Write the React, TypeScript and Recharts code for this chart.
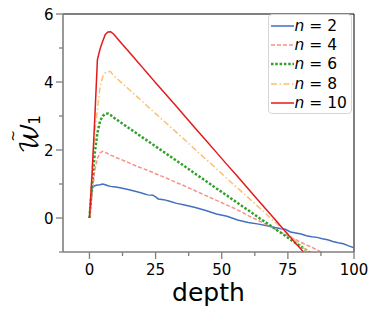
import React from "react";
import { LineChart, Line, XAxis, YAxis, ReferenceLine, Legend } from "recharts";

// depth samples and the value of W~1 per n
const depth = [
  0, 1, 2, 3, 4, 5, 6, 7, 8, 9, 10, 12, 15, 18, 20, 22, 24, 25, 26, 28, 30, 33,
  36, 40, 44, 48, 52, 56, 60, 64, 68, 70, 72, 74, 76, 78, 80, 82, 84, 86, 88,
  90, 92, 94, 96, 98, 100,
];

const n2 = [
  0, 0.88, 0.95, 0.97, 0.98, 1.0, 0.98, 0.95, 0.93, 0.92, 0.91, 0.88, 0.83,
  0.77, 0.73, 0.68, 0.67, 0.62, 0.56, 0.54, 0.5, 0.43, 0.38, 0.31, 0.22, 0.12,
  0.05, -0.06, -0.13, -0.18, -0.24, -0.28, -0.31, -0.33, -0.41, -0.44, -0.47,
  -0.52, -0.55, -0.57, -0.61, -0.64, -0.69, -0.73, -0.76, -0.82, -0.88,
];

const n4 = [
  0, 0.7, 1.4, 1.75, 1.92, 1.96, 1.93, 1.89, 1.85, 1.82, 1.78, 1.72, 1.62,
  1.52, 1.46, 1.4, 1.34, 1.3, 1.27, 1.21, 1.14, 1.04, 0.94, 0.8, 0.66, 0.52,
  0.38, 0.24, 0.07, -0.08, -0.24, -0.32, -0.4, -0.48, -0.56, -0.64, -0.72,
  -0.79, -0.86, -0.94, -1.01, -1.09, null, null, null, null, null,
];

const n6 = [
  0, 1.0, 1.9, 2.5, 2.85, 3.0, 3.06, 3.07, 3.03, 2.96, 2.91, 2.8, 2.64, 2.48,
  2.37, 2.27, 2.16, 2.11, 2.05, 1.95, 1.84, 1.68, 1.52, 1.3, 1.09, 0.87, 0.66,
  0.44, 0.23, 0.01, -0.2, -0.31, -0.42, -0.52, -0.63, -0.74, -0.84, -0.95,
  -1.06, null, null, null, null, null, null, null, null,
];

const n8 = [
  0, 1.4, 2.5, 3.2, 3.85, 4.15, 4.27, 4.31, 4.3, 4.2, 4.13, 3.99, 3.78, 3.57,
  3.43, 3.28, 3.14, 3.07, 3.0, 2.86, 2.72, 2.51, 2.3, 2.01, 1.73, 1.45, 1.16,
  0.88, 0.6, 0.32, 0.03, -0.11, -0.25, -0.39, -0.53, -0.67, -0.81, -0.96, -1.1,
  null, null, null, null, null, null, null, null,
];

const n10 = [
  0, 1.3, 2.9, 4.65, 4.97, 5.2, 5.4, 5.47, 5.48, 5.42, 5.33, 5.15, 4.88, 4.61,
  4.43, 4.25, 4.07, 3.98, 3.89, 3.71, 3.54, 3.27, 3.0, 2.64, 2.29, 1.93, 1.57,
  1.22, 0.86, 0.5, 0.15, -0.03, -0.21, -0.39, -0.57, -0.75, -0.92, -1.1, null,
  null, null, null, null, null, null, null, null,
];

const nLabels = ["2", "4", "6", "8", "10"];

const xTicks = [0, 12.5, 25, 37.5, 50, 62.5, 75, 87.5, 100];
const xMajor = [0, 25, 50, 75, 100];
const yTicks = [-1, 0, 1, 2, 3, 4, 5, 6];
const yMajor = [0, 2, 4, 6];

const rows = depth.map((d, i) => ({
  depth: d,
  n2: n2[i],
  n4: n4[i],
  n6: n6[i],
  n8: n8[i],
  n10: n10[i],
}));

const FONT = "'DejaVu Sans', sans-serif";
const GRAY = "#7f7f7f";

const series = [
  { key: "n2", color: "#4271c0", dash: undefined, width: 1.5 },
  { key: "n4", color: "#f8918a", dash: "4 2", width: 1.5 },
  { key: "n6", color: "#33a02c", dash: "2.5 1.8", width: 2.5 },
  { key: "n8", color: "#fdbf6f", dash: "6 2.5 1.5 2.5", width: 1.5 },
  { key: "n10", color: "#e31a1c", dash: undefined, width: 1.5 },
];

const XTick = (props: any) => {
  const { x, y, payload } = props;
  const major = xMajor.includes(payload.value);
  return (
    <g>
      <line x1={x} x2={x} y1={y} y2={y + (major ? 7 : 4)} stroke={GRAY} strokeWidth={1.3} />
      {major && (
        <text x={x} y={y + 22.5} textAnchor="middle" fontSize={15} fontFamily={FONT} fill="#000">
          {payload.value}
        </text>
      )}
    </g>
  );
};

const YTick = (props: any) => {
  const { x, y, payload } = props;
  const major = yMajor.includes(payload.value);
  return (
    <g>
      <line x1={x - (major ? 7 : 4)} x2={x} y1={y} y2={y} stroke={GRAY} strokeWidth={1.3} />
      {major && (
        <text x={x - 9.5} y={y + 5.5} textAnchor="end" fontSize={15} fontFamily={FONT} fill="#000">
          {payload.value}
        </text>
      )}
    </g>
  );
};

const YTitle = () => (
  <g transform="translate(37,134) rotate(-90)" fill="#000">
    <text x={-4} y={0} textAnchor="middle" fontSize={25} fontFamily="'DejaVu Math TeX Gyre', 'DejaVu Serif', serif">
      𝒲
    </text>
    <text x={14} y={3} textAnchor="middle" fontSize={15} fontFamily={FONT}>
      1
    </text>
    <text x={-2} y={-19} textAnchor="middle" fontSize={14} fontFamily={FONT}>
      ~
    </text>
  </g>
);

const LegendBox = () => (
  <div
    style={{
      width: 84,
      height: 100,
      boxSizing: "border-box",
      paddingTop: 1,
      border: "1px solid #d6d6d6",
      borderRadius: 4,
      background: "rgba(255,255,255,0.8)",
      fontFamily: FONT,
      fontSize: 15.5,
      color: "#000",
    }}
  >
    {series.map((s, i) => (
      <div key={s.key} style={{ display: "flex", alignItems: "center", height: 19.3, whiteSpace: "nowrap" }}>
        <svg width={25} height={10} style={{ marginLeft: 0.5, flex: "none" }}>
          <line x1={1} x2={24} y1={5} y2={5} stroke={s.color} strokeWidth={s.width} strokeDasharray={s.dash} />
        </svg>
        <span>
          <i>n</i>
          {" = "}
          {nLabels[i]}
        </span>
      </div>
    ))}
  </div>
);

export default function App() {
  return (
    <div style={{ position: "absolute", left: 0, top: 0 }}>
      <LineChart width={379} height={316} data={rows} margin={{ top: 14, right: 25, bottom: 0, left: 0 }}>
        <XAxis
          dataKey="depth"
          type="number"
          domain={[-10, 100]}
          ticks={xTicks}
          allowDataOverflow
          height={64}
          axisLine={{ stroke: GRAY, strokeWidth: 1.6 }}
          tickLine={false}
          tickSize={0}
          tickMargin={0}
          tick={<XTick />}
          interval={0}
          label={{
            value: "depth",
            position: "insideBottom",
            offset: 15,
            style: { fontSize: 25, fontFamily: FONT, fill: "#000" },
          }}
        />
        <YAxis
          type="number"
          domain={[-1, 6]}
          ticks={yTicks}
          allowDataOverflow
          width={63}
          axisLine={{ stroke: GRAY, strokeWidth: 1.6 }}
          tickLine={false}
          tickSize={0}
          tickMargin={0}
          tick={<YTick />}
          interval={0}
          label={<YTitle />}
        />
        <ReferenceLine y={6} stroke="#000" strokeWidth={1} />
        <ReferenceLine x={100} stroke="#000" strokeWidth={1} />
        {series.map((s) => (
          <Line
            key={s.key}
            dataKey={s.key}
            type="linear"
            stroke={s.color}
            strokeWidth={s.width}
            strokeDasharray={s.dash}
            dot={false}
            activeDot={false}
            isAnimationActive={false}
          />
        ))}
        <Legend
          layout="vertical"
          align="center"
          verticalAlign="middle"
          content={<LegendBox />}
          wrapperStyle={{ left: 268, top: 14, width: 84, height: 100 }}
        />
      </LineChart>
    </div>
  );
}
